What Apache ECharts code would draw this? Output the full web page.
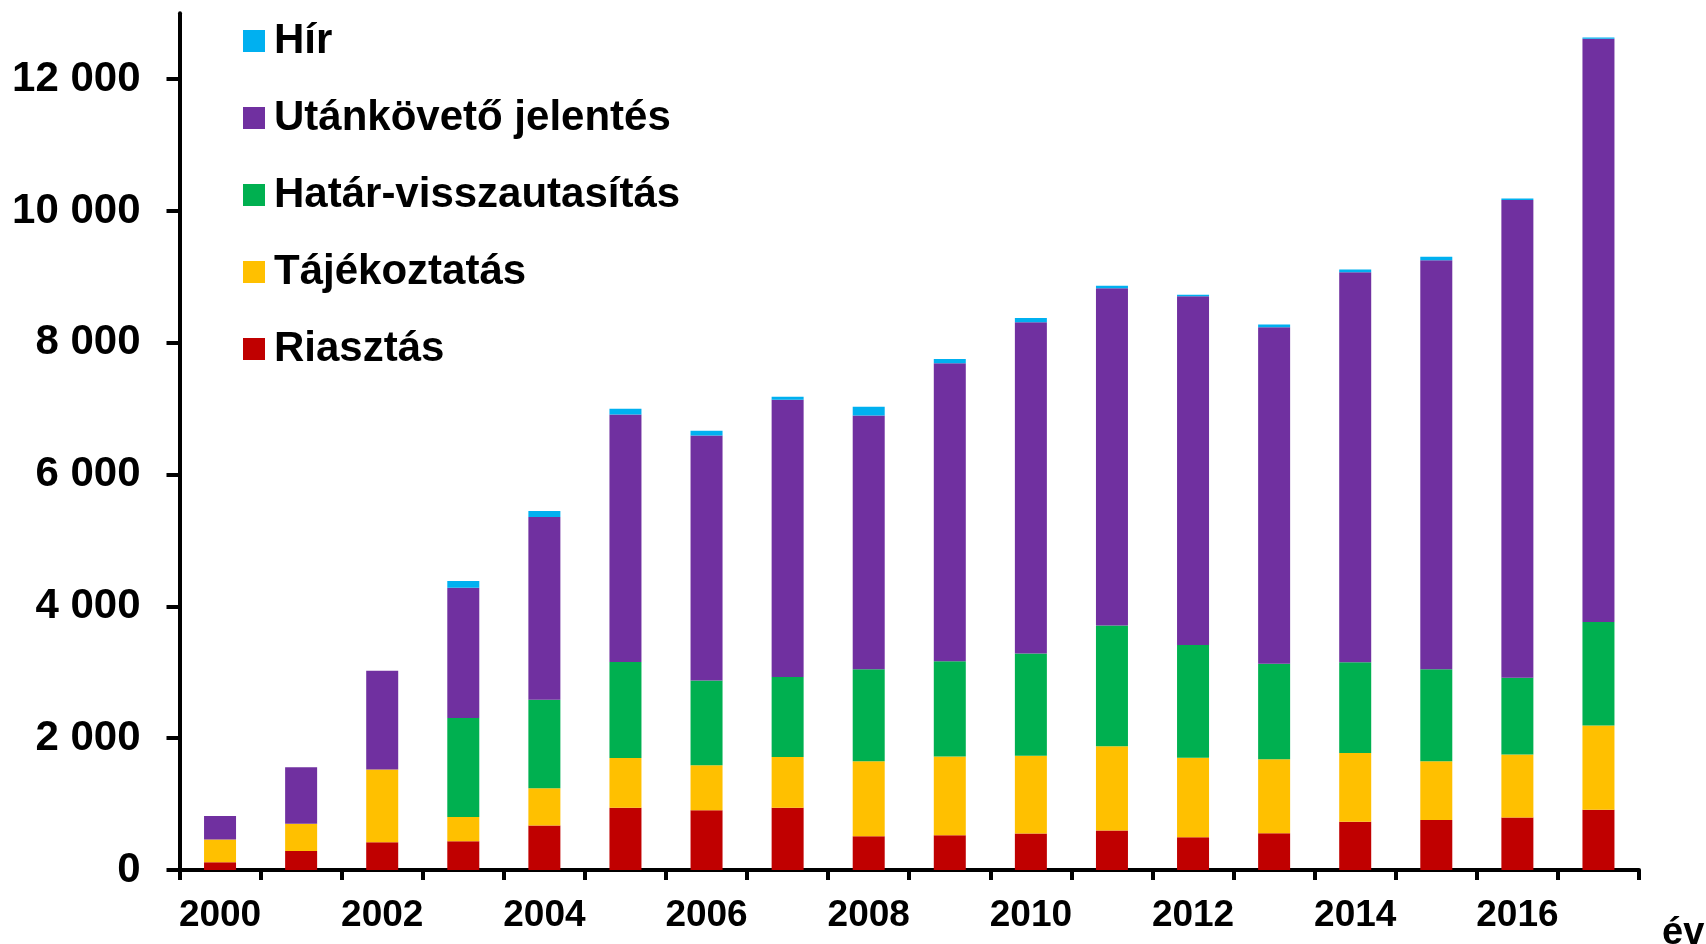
<!DOCTYPE html>
<html>
<head>
<meta charset="utf-8">
<script src="https://cdn.jsdelivr.net/npm/echarts@6/dist/echarts.min.js"></script>
<style>
  html, body { margin: 0; padding: 0; background: #fff; }
  #chart { width: 1706px; height: 944px; }
</style>
</head>
<body>
<div id="chart"></div>
<script>
// évek
var years = ['2000','2001','2002','2003','2004','2005','2006','2007','2008',
             '2009','2010','2011','2012','2013','2014','2015','2016','2017'];
// sorozatok (alulról felfelé)
var riasztas     = [117, 290, 422, 437, 676, 945, 905, 945, 513, 529, 554, 600, 498, 559, 732, 757, 798, 915];
var tajekoztatas = [346, 411, 1103, 366, 564, 753, 686, 768, 1139, 1194, 1179, 1276, 1205, 1123, 1042, 895, 956, 1276];
var hatar        = [0, 0, 0, 1505, 1342, 1459, 1286, 1215, 1393, 1445, 1551, 1835, 1713, 1449, 1378, 1393, 1164, 1571];
var utankoveto   = [355, 859, 1499, 1975, 2776, 3756, 3717, 4209, 3853, 4520, 5028, 5118, 5291, 5105, 5919, 6209, 7248, 8852];
var hir          = [0, 0, 0, 102, 91, 87, 71, 45, 132, 67, 66, 36, 21, 40, 41, 51, 25, 20];
// tengely
var yTicks = [0, 2000, 4000, 6000, 8000, 10000, 12000];

var font = '"Liberation Sans", Arial, sans-serif';
var myChart = echarts.init(document.getElementById('chart'));

function bar(name, data, color) {
    return {
        name: name,
        type: 'bar',
        stack: 'total',
        barWidth: 32,
        data: data,
        itemStyle: { color: color }
    };
}

var option = {
    animation: false,
    grid: { left: 179.5, right: 67, top: 13.3, bottom: 74 },
    legend: {
        orient: 'vertical',
        left: 243,
        top: 20,
        padding: 0,
        itemWidth: 22,
        itemHeight: 22,
        itemGap: 35,
        icon: 'rect',
        textStyle: { fontFamily: font, fontWeight: 'bold', fontSize: 42, color: '#000', padding: [0, 0, 0, 4] },
        data: ['Hír', 'Utánkövető jelentés', 'Határ-visszautasítás', 'Tájékoztatás', 'Riasztás']
    },
    title: {
        text: 'év',
        left: 1662,
        top: 915,
        padding: 0,
        textStyle: { fontFamily: font, fontWeight: 'bold', fontSize: 38, color: '#000' }
    },
    xAxis: {
        type: 'category',
        data: years,
        axisLine: { lineStyle: { color: '#000', width: 4 } },
        axisTick: { show: true, interval: 0, length: 10, lineStyle: { color: '#000', width: 4 } },
        axisLabel: { interval: 1, margin: 27, fontFamily: font, fontWeight: 'bold', fontSize: 37, color: '#000' }
    },
    yAxis: {
        type: 'value',
        min: 0,
        max: 13000,
        interval: 1000,
        splitLine: { show: false },
        axisLine: { show: true, lineStyle: { color: '#000', width: 4 } },
        axisTick: { show: true, length: 13, customValues: yTicks, lineStyle: { color: '#000', width: 4 } },
        axisLabel: {
            margin: 39,
            customValues: yTicks,
            fontFamily: font, fontWeight: 'bold', fontSize: 42, color: '#000',
            formatter: function (v) { return String(v).replace(/\B(?=(\d{3})+(?!\d))/g, ' '); }
        }
    },
    series: [
        bar('Riasztás', riasztas, '#C00000'),
        bar('Tájékoztatás', tajekoztatas, '#FFC000'),
        bar('Határ-visszautasítás', hatar, '#00B050'),
        bar('Utánkövető jelentés', utankoveto, '#7030A0'),
        bar('Hír', hir, '#00B0F0')
    ]
};
myChart.setOption(option);
</script>
</body>
</html>
